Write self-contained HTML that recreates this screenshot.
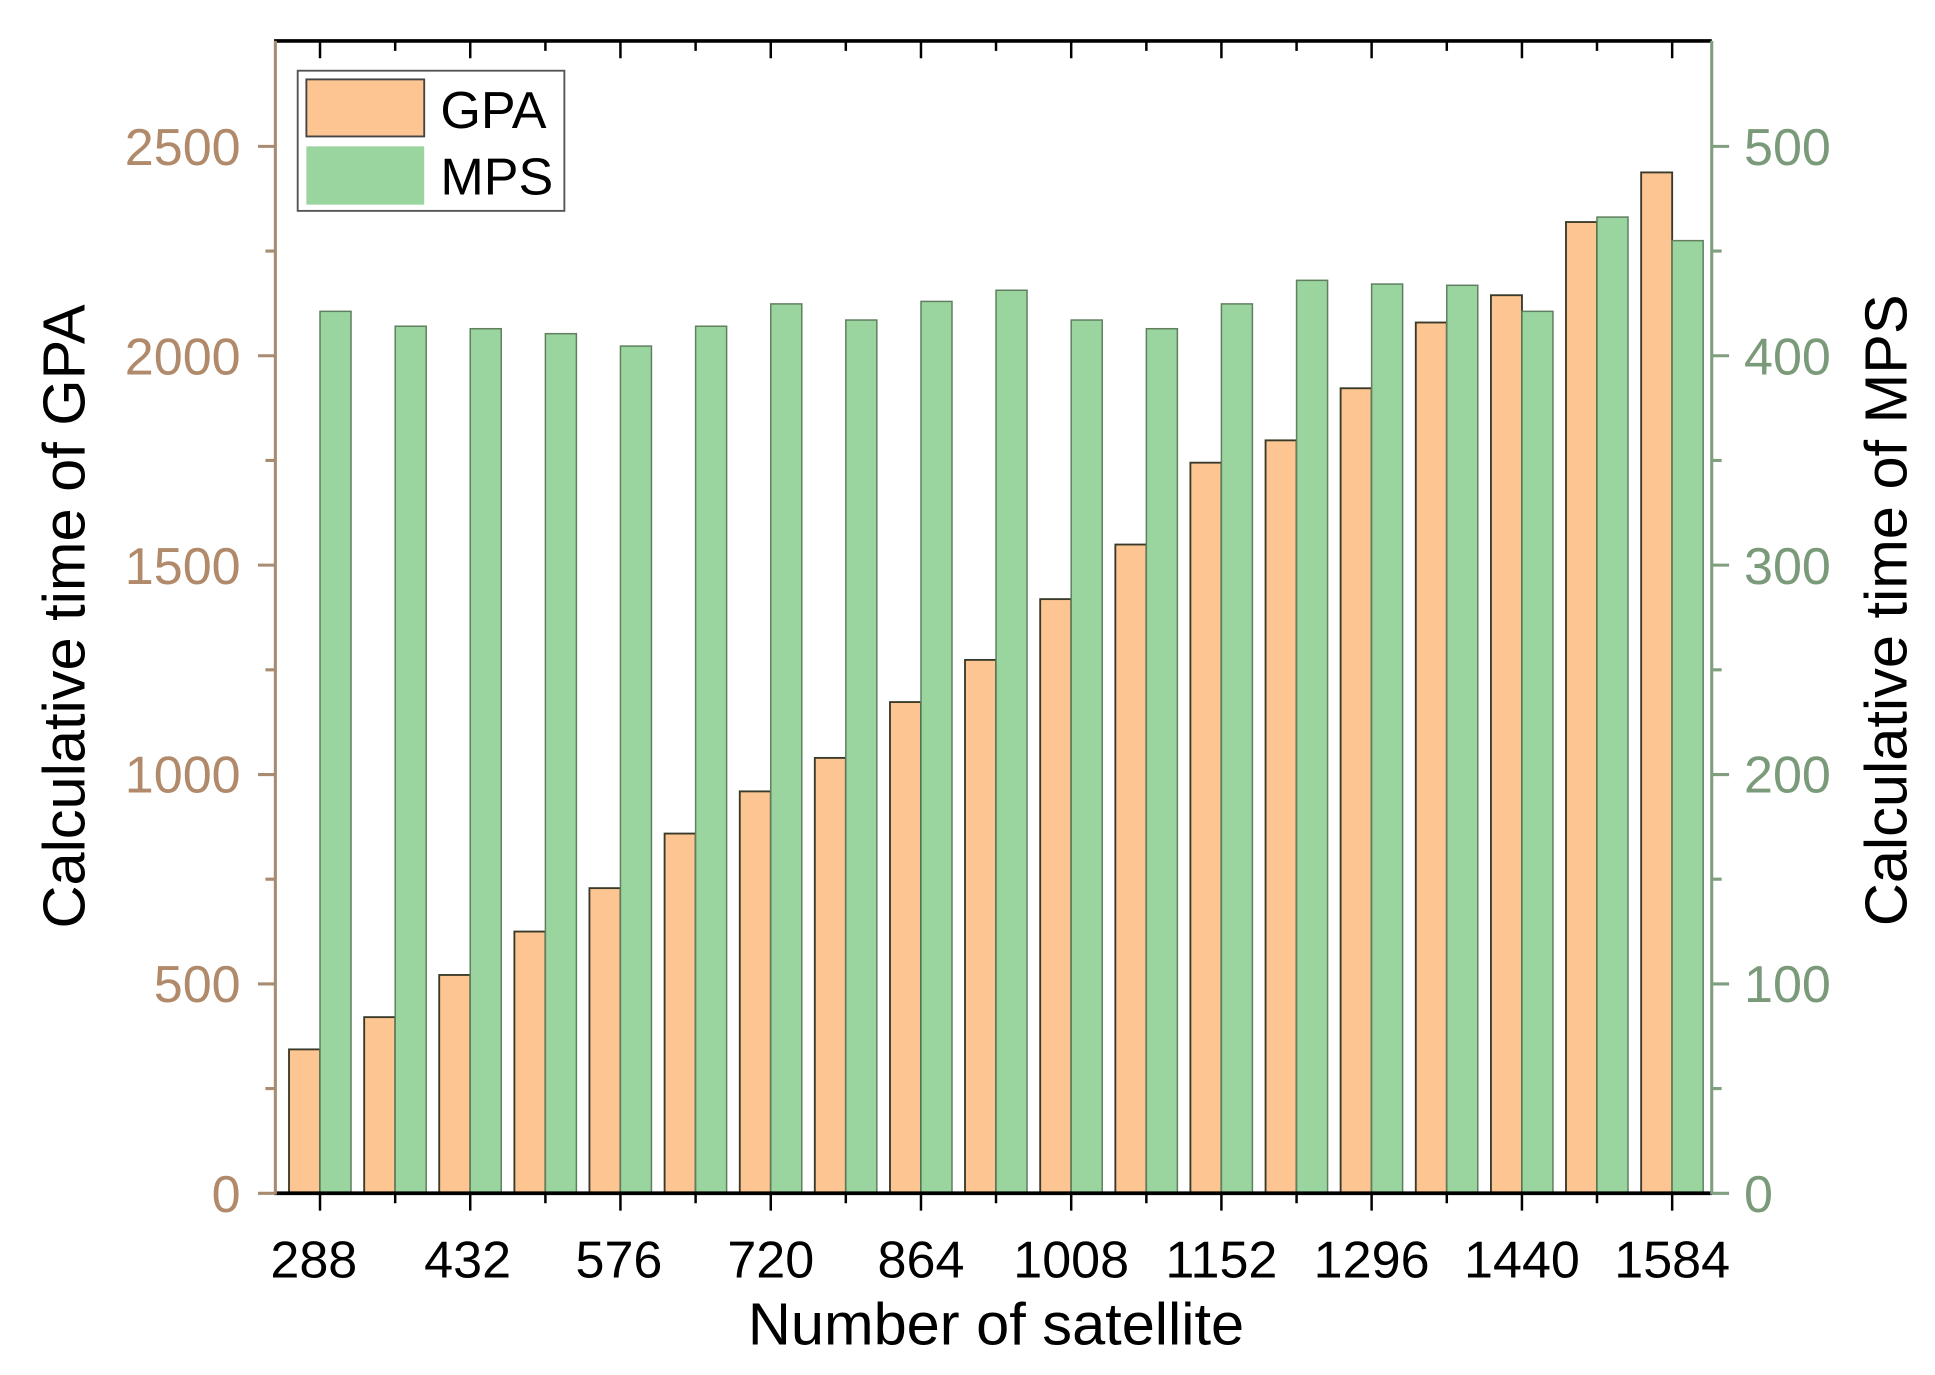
<!DOCTYPE html>
<html><head><meta charset="utf-8"><style>html,body{margin:0;padding:0;background:#fff}svg{display:block}</style></head><body>
<svg width="1935" height="1375" viewBox="0 0 1560 1108.5" preserveAspectRatio="none" xmlns="http://www.w3.org/2000/svg" font-family="Liberation Sans, Arial, sans-serif">
<rect width="1560" height="1108.5" fill="#fff"/>
<g stroke="#3a3a2a" stroke-width="1.5">
<rect x="233" y="846" width="25" height="116" fill="#fdc591"/>
<rect x="293.6" y="820" width="25" height="142" fill="#fdc591"/>
<rect x="354.1" y="786" width="25" height="176" fill="#fdc591"/>
<rect x="414.7" y="751" width="25" height="211" fill="#fdc591"/>
<rect x="475.2" y="716" width="25" height="246" fill="#fdc591"/>
<rect x="535.8" y="672" width="25" height="290" fill="#fdc591"/>
<rect x="596.4" y="638" width="25" height="324" fill="#fdc591"/>
<rect x="656.9" y="611" width="25" height="351" fill="#fdc591"/>
<rect x="717.5" y="566" width="25" height="396" fill="#fdc591"/>
<rect x="778" y="532" width="25" height="430" fill="#fdc591"/>
<rect x="838.6" y="483" width="25" height="479" fill="#fdc591"/>
<rect x="899.2" y="439" width="25" height="523" fill="#fdc591"/>
<rect x="959.7" y="373" width="25" height="589" fill="#fdc591"/>
<rect x="1020.3" y="355" width="25" height="607" fill="#fdc591"/>
<rect x="1080.8" y="313" width="25" height="649" fill="#fdc591"/>
<rect x="1141.4" y="260" width="25" height="702" fill="#fdc591"/>
<rect x="1202" y="238" width="25" height="724" fill="#fdc591"/>
<rect x="1262.5" y="179" width="25" height="783" fill="#fdc591"/>
<rect x="1323.1" y="139" width="25" height="823" fill="#fdc591"/>
</g>
<g stroke="#5f7f5f" stroke-width="1.2" fill="#9ad49f">
<rect x="258" y="251" width="25" height="711"/>
<rect x="318.6" y="263" width="25" height="699"/>
<rect x="379.1" y="265" width="25" height="697"/>
<rect x="439.7" y="269" width="25" height="693"/>
<rect x="500.2" y="279" width="25" height="683"/>
<rect x="560.8" y="263" width="25" height="699"/>
<rect x="621.4" y="245" width="25" height="717"/>
<rect x="681.9" y="258" width="25" height="704"/>
<rect x="742.5" y="243" width="25" height="719"/>
<rect x="803" y="234" width="25" height="728"/>
<rect x="863.6" y="258" width="25" height="704"/>
<rect x="924.2" y="265" width="25" height="697"/>
<rect x="984.7" y="245" width="25" height="717"/>
<rect x="1045.3" y="226" width="25" height="736"/>
<rect x="1105.8" y="229" width="25" height="733"/>
<rect x="1166.4" y="230" width="25" height="732"/>
<rect x="1227" y="251" width="25" height="711"/>
<rect x="1287.5" y="175" width="25" height="787"/>
<rect x="1348.1" y="194" width="25" height="768"/>
</g>
<line x1="221" y1="33" x2="1380" y2="33" stroke="#000" stroke-width="3"/>
<line x1="221" y1="962" x2="1380" y2="962" stroke="#000" stroke-width="3"/>
<line x1="222" y1="33" x2="222" y2="963" stroke="#a88c72" stroke-width="2.5"/>
<line x1="1380" y1="33" x2="1380" y2="963" stroke="#7f9f7f" stroke-width="2.5"/>
<g stroke="#000" stroke-width="2">
<path d="M258 962v14M318.6 962v8M379.1 962v14M439.7 962v8M500.2 962v14M560.8 962v8M621.4 962v14M681.9 962v8M742.5 962v14M803 962v8M863.6 962v14M924.2 962v8M984.7 962v14M1045.3 962v8M1105.8 962v14M1166.4 962v8M1227 962v14M1287.5 962v8M1348.1 962v14"/>
<path d="M258 33v14M318.6 33v8M379.1 33v14M439.7 33v8M500.2 33v14M560.8 33v8M621.4 33v14M681.9 33v8M742.5 33v14M803 33v8M863.6 33v14M924.2 33v8M984.7 33v14M1045.3 33v8M1105.8 33v14M1166.4 33v8M1227 33v14M1287.5 33v8M1348.1 33v14"/>
</g>
<g stroke="#a88c72" stroke-width="2.5">
<path d="M208 962h14M208 793.2h14M208 624.4h14M208 455.6h14M208 286.8h14M208 118h14M214 877.6h8M214 708.8h8M214 540h8M214 371.2h8M214 202.4h8"/>
</g>
<g stroke="#7f9f7f" stroke-width="2.5">
<path d="M1380 962h14M1380 793.2h14M1380 624.4h14M1380 455.6h14M1380 286.8h14M1380 118h14M1380 877.6h8M1380 708.8h8M1380 540h8M1380 371.2h8M1380 202.4h8"/>
</g>
<g fill="#b08a6a" font-size="42" text-anchor="end">
<text x="194" y="977">0</text><text x="194" y="808">500</text><text x="194" y="639">1000</text><text x="194" y="471">1500</text><text x="194" y="302">2000</text><text x="194" y="133">2500</text>
</g>
<g fill="#7a9a7a" font-size="42" text-anchor="start">
<text x="1406" y="977">0</text><text x="1406" y="808">100</text><text x="1406" y="639">200</text><text x="1406" y="471">300</text><text x="1406" y="302">400</text><text x="1406" y="133">500</text>
</g>
<g fill="#000" font-size="42" text-anchor="middle">
<text x="253" y="1030">288</text><text x="377" y="1030">432</text><text x="499" y="1030">576</text><text x="621.4" y="1030">720</text><text x="742.5" y="1030">864</text><text x="863.6" y="1030">1008</text><text x="984.7" y="1030">1152</text><text x="1105.8" y="1030">1296</text><text x="1227" y="1030">1440</text><text x="1348.1" y="1030">1584</text>
</g>
<text x="803" y="1084" font-size="48" text-anchor="middle" fill="#000">Number of satellite</text>
<text transform="translate(68,497) rotate(-90)" font-size="48" text-anchor="middle" fill="#000">Calculative time of GPA</text>
<text transform="translate(1537,492) rotate(-90)" font-size="48" text-anchor="middle" fill="#000">Calculative time of MPS</text>
<rect x="240" y="57" width="215" height="113" fill="#fff" stroke="#555" stroke-width="1.5"/>
<rect x="247" y="64" width="95" height="46" fill="#fdc591" stroke="#444" stroke-width="1.5"/>
<rect x="247" y="118" width="95" height="47" fill="#9ad49f"/>
<text x="355" y="103" font-size="42" fill="#000">GPA</text>
<text x="355" y="157" font-size="42" fill="#000">MPS</text>
</svg>
</body></html>
